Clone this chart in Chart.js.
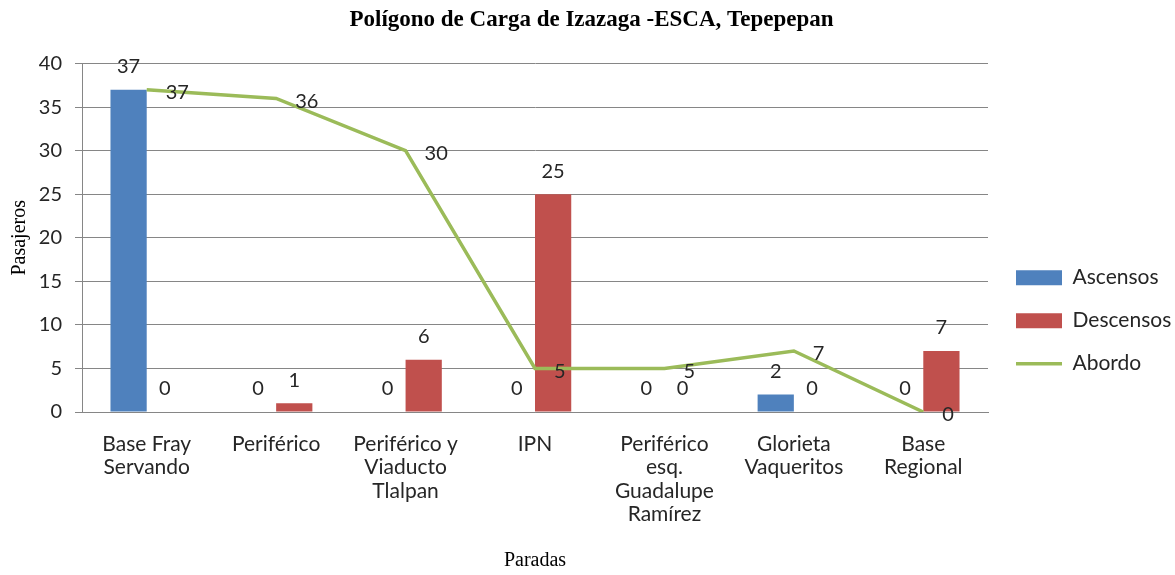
<!DOCTYPE html>
<html>
<head>
<meta charset="utf-8">
<script src="https://cdn.jsdelivr.net/npm/chart.js@4"></script>
<style>
  body { margin: 0; background: #fff; }
  #wrap { width: 1175px; height: 575px; }
</style>
</head>
<body>
<div id="wrap"><canvas id="chart"></canvas></div>
<script>
const paradas = [
    ['Base Fray', 'Servando'],
    'Periférico',
    ['Periférico y', 'Viaducto', 'Tlalpan'],
    'IPN',
    ['Periférico', 'esq.', 'Guadalupe', 'Ramírez'],
    ['Glorieta', 'Vaqueritos'],
    ['Base', 'Regional']
];
const ascensos = [37, 0, 0, 0, 0, 2, 0];
const descensos = [0, 1, 6, 25, 0, 0, 7];
const abordo = [37, 36, 30, 5, 5, 7, 0];
const yTicks = [0, 40, 5]; // min, max, step

const sansFont = 'Lato, "Open Sans", sans-serif';
const serifFont = '"Liberation Serif", "DejaVu Serif", serif';

// value labels drawn at each element's position
const valueLabels = {
    id: 'valueLabels',
    afterDatasetsDraw(chart) {
        const ctx = chart.ctx;
        ctx.save();
        ctx.font = '20px ' + sansFont;
        ctx.fillStyle = '#262626';
        chart.data.datasets.forEach((ds, i) => {
            const meta = chart.getDatasetMeta(i);
            meta.data.forEach((el, j) => {
                const v = ds.data[j];
                ctx.textBaseline = 'middle';
                if (ds.type === 'line') {
                    ctx.textAlign = 'left';
                    ctx.fillText(v, el.x + 19, el.y + 3);
                } else {
                    ctx.textAlign = 'center';
                    ctx.fillText(v, el.x, el.y - 23);
                }
            });
        });
        ctx.restore();
    }
};

// fixed legend column so the plot ends where the reference does
const legendBox = {
    id: 'legendBox',
    beforeLayout(chart) {
        const lg = chart.legend;
        if (lg && !lg._fixed) {
            const fit = lg.fit;
            lg.fit = function () { fit.call(this); this.width = 187; };
            lg._fixed = true;
        }
    },
    afterLayout(chart) {
        chart.legend.left += 6;
        chart.legend.right += 6;
    }
};

new Chart(document.getElementById('chart'), {
    data: {
        labels: paradas,
        datasets: [
            {
                type: 'bar',
                label: 'Ascensos',
                data: ascensos,
                backgroundColor: '#4F81BD',
                categoryPercentage: 0.56,
                barPercentage: 1,
                order: 2
            },
            {
                type: 'bar',
                label: 'Descensos',
                data: descensos,
                backgroundColor: '#C0504D',
                categoryPercentage: 0.56,
                barPercentage: 1,
                order: 2
            },
            {
                type: 'line',
                label: 'Abordo',
                data: abordo,
                borderColor: '#9BBB59',
                backgroundColor: '#9BBB59',
                borderWidth: 3.5,
                pointRadius: 0,
                tension: 0,
                order: 1
            }
        ]
    },
    options: {
        responsive: true,
        maintainAspectRatio: false,
        animation: false,
        layout: { padding: { top: 6, right: 0, bottom: 2, left: 8 } },
        plugins: {
            title: {
                display: true,
                text: 'Polígono de Carga de Izazaga -ESCA, Tepepepan',
                font: { family: serifFont, size: 23, weight: 'bold' },
                color: '#000',
                padding: { top: 0, bottom: 30 }
            },
            legend: {
                position: 'right',
                title: {
                    display: true,
                    text: ' ',
                    font: { size: 2 },
                    padding: { top: 0, bottom: 60 }
                },
                labels: {
                    usePointStyle: true,
                    pointStyleWidth: 46,
                    boxHeight: 15,
                    padding: 22,
                    color: '#262626',
                    font: { family: sansFont, size: 21 },
                    generateLabels(chart) {
                        return chart.data.datasets.map((ds, i) => ({
                            text: ds.label,
                            fillStyle: ds.backgroundColor,
                            strokeStyle: ds.type === 'line' ? ds.borderColor : ds.backgroundColor,
                            lineWidth: ds.type === 'line' ? 3.5 : 0,
                            pointStyle: ds.type === 'line' ? 'line' : 'rect',
                            fontColor: '#262626',
                            datasetIndex: i
                        }));
                    }
                }
            },
            tooltip: { enabled: false }
        },
        scales: {
            x: {
                grid: { display: false, drawTicks: false },
                border: { color: '#868686' },
                ticks: {
                    color: '#262626',
                    font: { family: sansFont, size: 21, lineHeight: 1.12 },
                    maxRotation: 0,
                    autoSkip: false,
                    padding: 20
                },
                title: {
                    display: true,
                    text: 'Paradas',
                    font: { family: serifFont, size: 20 },
                    color: '#000',
                    padding: { top: 8, bottom: 0 }
                },
                afterFit(scale) { scale.height = 161; }
            },
            y: {
                min: yTicks[0],
                max: yTicks[1],
                ticks: {
                    stepSize: yTicks[2],
                    color: '#262626',
                    font: { family: sansFont, size: 20 },
                    padding: 13
                },
                grid: { color: '#868686', tickLength: 7 },
                border: { color: '#868686' },
                title: {
                    display: true,
                    text: 'Pasajeros',
                    font: { family: serifFont, size: 20 },
                    color: '#000',
                    padding: { top: 0, bottom: 6 }
                },
                afterFit(scale) { scale.width = 74; }
            }
        }
    },
    plugins: [valueLabels, legendBox]
});
</script>
</body>
</html>
